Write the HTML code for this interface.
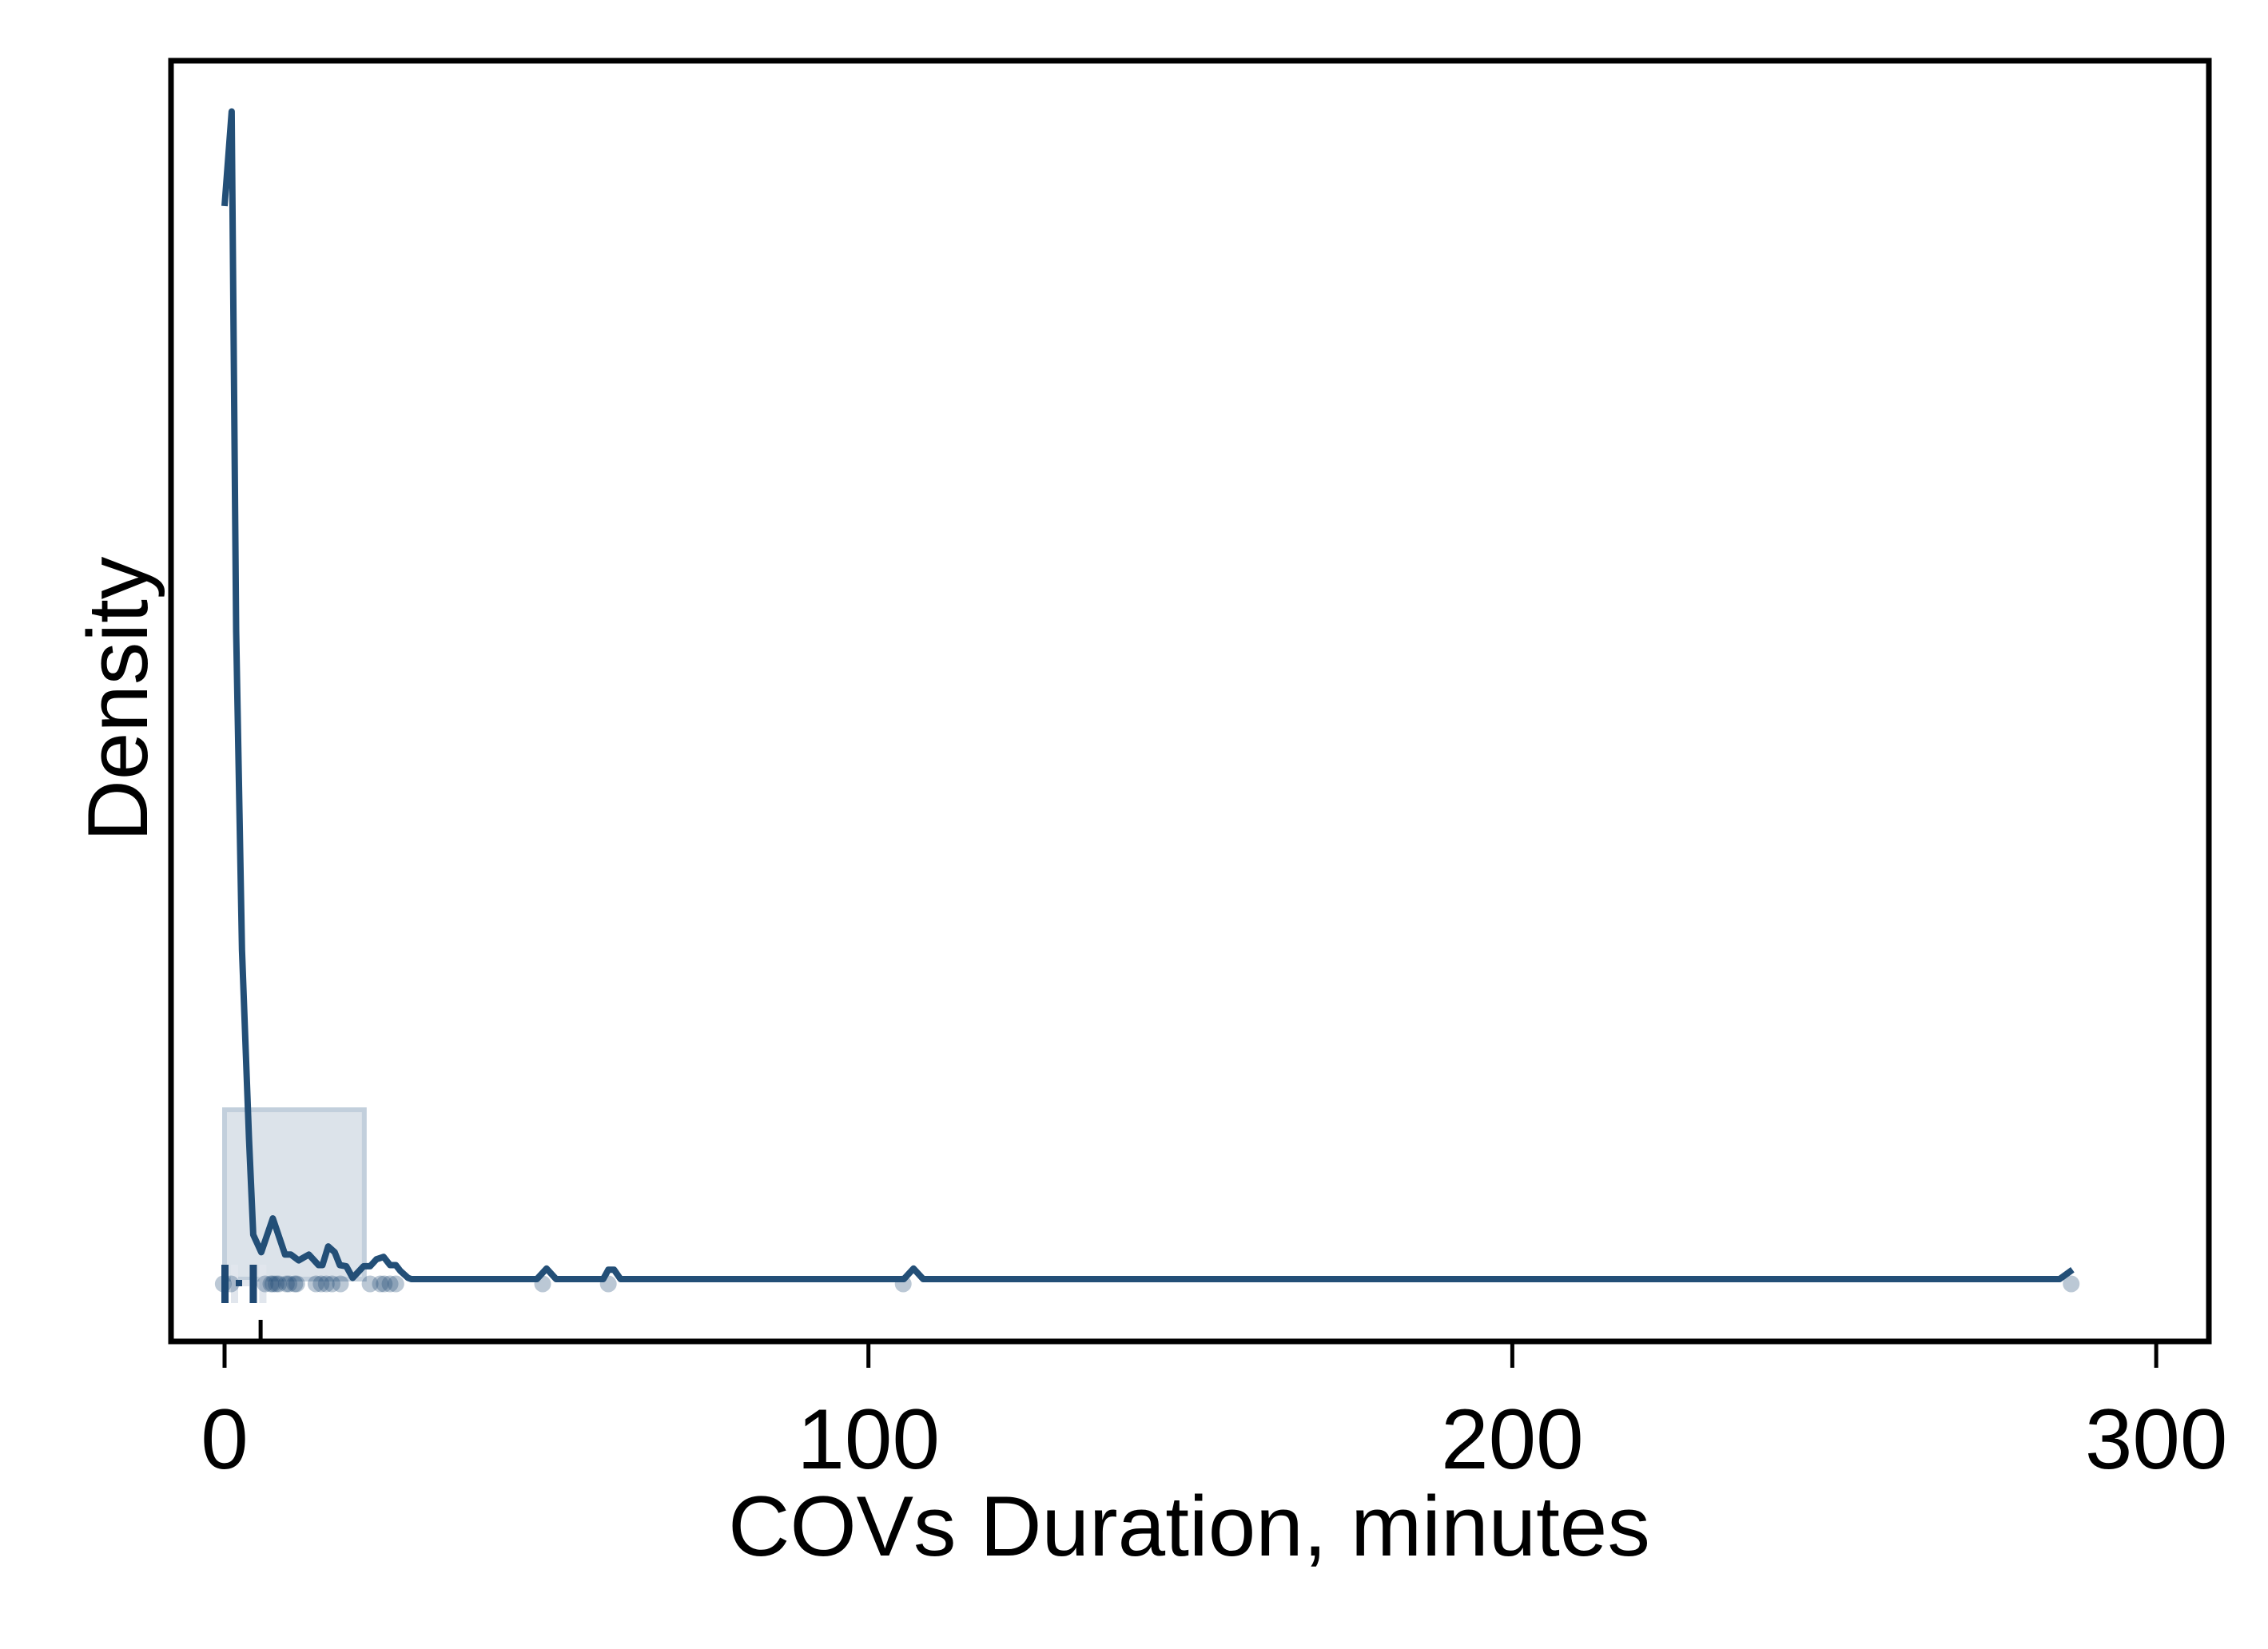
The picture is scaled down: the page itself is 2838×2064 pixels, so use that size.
<!DOCTYPE html>
<html><head><meta charset="utf-8"><style>
html,body{margin:0;padding:0;background:#fff;}
svg{display:block;font-family:"Liberation Sans",sans-serif;}
</style></head><body>
<svg id="chart" width="2838" height="2064" viewBox="0 0 2838 2064">
<rect width="2838" height="2064" fill="#fff"/>
<g id="plot"></g>
<rect x="214" y="76" width="2550" height="1603" fill="none" stroke="#000" stroke-width="7"/>
<g id="xaxis"></g>
<text x="1488" y="1947" font-size="107" text-anchor="middle">COVs Duration, minutes</text>
<text transform="translate(184,875) rotate(-90)" font-size="107" text-anchor="middle">Density</text>
</svg>
<script>
const curveX=[0,1.1,1.8,2.7,3.8,4.45,5.7,7.5,9.4,10.3,11.5,13.1,14.6,15.2,16.1,17.1,17.9,18.9,19.9,21.6,22.6,23.6,24.7,25.7,26.6,27.3,28.5,29,48.5,50,51.5,58.8,59.6,60.5,61.5,105.5,107,108.5,285,287];
const curveY=[0.919,1.0,0.555,0.282,0.120,0.038,0.023,0.052,0.021,0.021,0.016,0.021,0.012,0.012,0.028,0.023,0.012,0.011,0.001,0.011,0.011,0.017,0.019,0.012,0.012,0.007,0.001,0,0,0.009,0,0,0.008,0.008,0,0,0.009,0,0,0.008];
const dotX=[-0.2,1,6.3,7.2,7.5,8,8.4,9.6,10,10.9,11.2,14.2,15,15.8,16.7,18,22.6,24.2,24.8,25.7,26.6,49.4,59.6,105.4,286.8];
const xTicks=[0,100,200,300];
const boxRange=[0,21.7];
const boxHeight=[0.145];
const whiskers=[0,4.4];
const meanMark=[5.6];

const NS='http://www.w3.org/2000/svg';
function sx(v){return 281+v*8.057;}
function sy(v){return 1601-v*1461.5;}
function mk(tag,attrs,parent){const e=document.createElementNS(NS,tag);for(const k in attrs)e.setAttribute(k,attrs[k]);parent.appendChild(e);return e;}
const plot=document.getElementById('plot');
const xa=document.getElementById('xaxis');

let box=mk('rect',{x:sx(boxRange[0]),y:sy(boxHeight[0]),width:sx(boxRange[1])-sx(boxRange[0]),height:sy(0)-sy(boxHeight[0]),fill:'#dce3ea',stroke:'#c2cfdc','stroke-width':6},plot);



whiskers.forEach((w,i)=>{
  let g=mk('rect',{x:sx(w)+8,y:1583,width:9,height:48,fill:'#e1e6ed'},plot);
  
  
  let b=mk('rect',{x:sx(w)-4,y:1583,width:9,height:48,fill:'#1f4973'},plot);
  
  
});
let hd=mk('rect',{x:sx(whiskers[0])+14,y:1602,width:sx(whiskers[1])-sx(whiskers[0])-18,height:8,fill:'#e1e6ed'},plot);


let hd2=mk('rect',{x:sx(whiskers[0])+14,y:1602,width:8,height:8,fill:'#1f4973'},plot);



dotX.forEach(d=>{
  let c=mk('circle',{cx:sx(d),cy:1607,r:10.5,fill:'rgba(31,73,115,0.3)'},plot);
  
  
});

let pts=curveX.map((x,i)=>sx(x).toFixed(1)+','+sy(curveY[i]).toFixed(1)).join(' ');
let line=mk('polyline',{points:pts,fill:'none',stroke:'#234f77','stroke-width':8,'stroke-linejoin':'round'},plot);



meanMark.forEach(m=>{
  let t=mk('line',{x1:sx(m),x2:sx(m),y1:1652,y2:1679,stroke:'#000','stroke-width':5},plot);
  
  
});

xTicks.forEach(t=>{
  let l=mk('line',{x1:sx(t),x2:sx(t),y1:1679,y2:1712,stroke:'#000','stroke-width':5},xa);
  
  
  let tx=mk('text',{x:sx(t),y:1838,'font-size':107,'text-anchor':'middle'},xa);
  tx.textContent=t;
  
  
});
</script>
</body></html>
